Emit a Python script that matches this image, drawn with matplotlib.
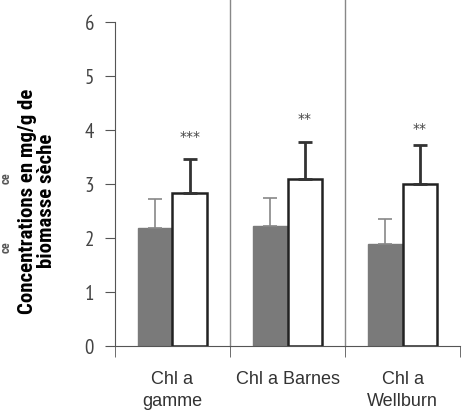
import numpy as np
import matplotlib.pyplot as plt

# Data
categories = ['Chl a\ngamme', 'Chl a Barnes', 'Chl a\nWellburn']
grey_vals = [2.19, 2.23, 1.89]
grey_err = [0.53, 0.52, 0.46]
white_vals = [2.83, 3.09, 3.01]
white_err = [0.63, 0.69, 0.71]
stars = ['***', '**', '**']
star_y = [3.88, 4.2, 4.02]

narrow = ['PT Sans Narrow', 'Archivo Narrow', 'DejaVu Sans']
cond = ['Roboto Condensed', 'Archivo Narrow', 'DejaVu Sans']
plain = ['Liberation Sans', 'DejaVu Sans']

fig = plt.figure(figsize=(4.63, 4.19), dpi=100)
ax = fig.add_axes([0.248, 0.174, 0.746, 0.826])

x = np.arange(len(categories))
w = 0.3
ax.bar(x - w / 2, grey_vals, w, color='#7a7a7a', edgecolor='#7a7a7a', zorder=2)
ax.bar(x + w / 2, white_vals, w, color='white', edgecolor='#222222', linewidth=1.8, zorder=2)
ax.errorbar(x - w / 2, grey_vals, yerr=[np.zeros(3), grey_err], fmt='none',
            ecolor='#888888', elinewidth=1.2, capsize=5, capthick=1.2, zorder=3)
ax.errorbar(x + w / 2, white_vals, yerr=[np.zeros(3), white_err], fmt='none',
            ecolor='#333333', elinewidth=2, capsize=5, capthick=2, zorder=3)

for xi, s, sy in zip(x, stars, star_y):
    ax.text(xi + w / 2, sy, s, ha='center', va='center', fontsize=10, color='#444444')

# separators between groups
for xs in [0.5, 1.5]:
    ax.plot([xs, xs], [0, 6.41], color='#888888', lw=1, zorder=1, clip_on=False)

ax.set_xlim(-0.5, 2.5)
ax.set_ylim(0, 6.41)
ax.spines['top'].set_visible(False)
ax.spines['right'].set_visible(False)
ax.spines['left'].set_bounds(0, 6)
ax.spines['left'].set_color('#555555')
ax.spines['bottom'].set_color('#555555')

ax.set_yticks(range(7))
ax.set_yticklabels([str(i) for i in range(7)], fontsize=15, color='#444444', family=narrow)
ax.tick_params(axis='y', length=7, color='#555555', pad=8)

ax.set_xticks(x)
ax.set_xticklabels(categories, fontsize=13, color='#333333', family=plain, linespacing=1.35)
ax.set_xticks([-0.5, 0.5, 1.5, 2.5], minor=True)
ax.tick_params(axis='x', which='major', length=0, pad=18)
ax.tick_params(axis='x', which='minor', length=8, color='#555555')

fig.text(0.08, 0.52, 'Concentrations en mg/g de\nbiomasse sèche', rotation=90,
         ha='center', va='center', fontsize=15, fontweight='bold', family=cond,
         linespacing=1.05)

# faint stray fragments at the far left of the scan
fig.text(0.013, 0.575, 'ce', rotation=90, ha='center', va='center', fontsize=9,
         fontweight='bold', family=cond, color='#555555')
fig.text(0.013, 0.41, 'ce', rotation=90, ha='center', va='center', fontsize=9,
         fontweight='bold', family=cond, color='#555555')

fig.savefig('out.png', dpi=100)
